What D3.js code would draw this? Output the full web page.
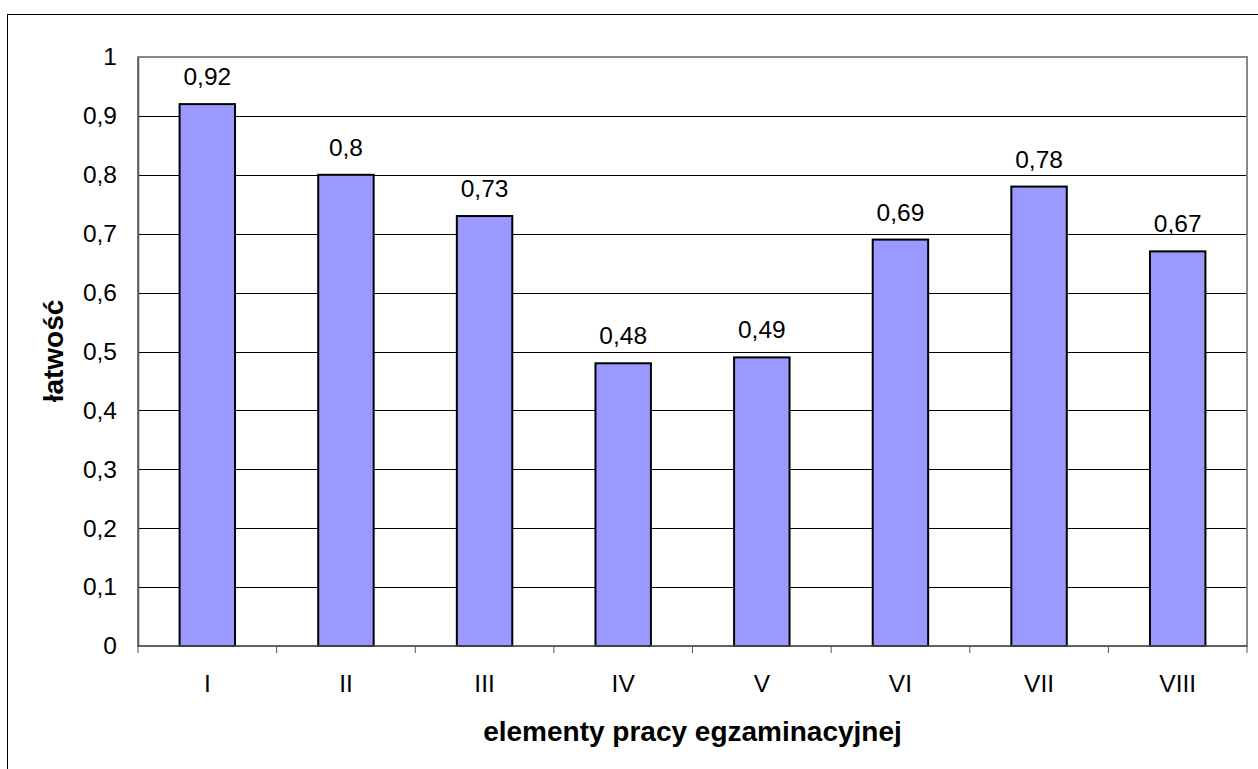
<!DOCTYPE html>
<html><head><meta charset="utf-8">
<script src="https://cdn.jsdelivr.net/npm/d3@7"></script>
<style>body{margin:0;background:#fff}svg{display:block}</style>
</head><body><svg id="c" width="1258" height="769"></svg>
<script>
const categories = ["I","II","III","IV","V","VI","VII","VIII"];
const values = [0.92,0.8,0.73,0.48,0.49,0.69,0.78,0.67];
const valueLabels = ["0,92","0,8","0,73","0,48","0,49","0,69","0,78","0,67"];
const yTicks = [0,0.1,0.2,0.3,0.4,0.5,0.6,0.7,0.8,0.9,1];
const yTitle = "łatwość";
const xTitle = "elementy pracy egzaminacyjnej";

const svg = d3.select("#c");
const font = "Arial, 'Liberation Sans', sans-serif";
const L = 138, T = 57, R = 1247, B = 646;
const fs = 24.5, tfs = 28;

svg.append("rect").attr("x",7.5).attr("y",14.5).attr("width",1300).attr("height",800)
  .attr("fill","none").attr("stroke","#000").attr("stroke-width",1);

const x = d3.scaleBand().domain(categories).range([L,R]).paddingInner(0.6).paddingOuter(0.3);
const xb = d3.scaleBand().domain(categories).range([L,R]);
const y = d3.scaleLinear().domain([0,1]).range([B,T]);

// gridlines
svg.append("g").selectAll("line").data(yTicks.filter(d=>d>0 && d<1)).join("line")
  .attr("x1",L).attr("x2",R).attr("y1",d=>Math.round(y(d))+0.5).attr("y2",d=>Math.round(y(d))+0.5)
  .attr("stroke","#000").attr("stroke-width",1);

// plot border
svg.append("rect").attr("x",L).attr("y",T).attr("width",R-L).attr("height",B-T)
  .attr("fill","none").attr("stroke","#888").attr("stroke-width",2);

// bars
svg.append("g").selectAll("rect").data(values).join("rect")
  .attr("x",(d,i)=>x(categories[i])).attr("width",x.bandwidth())
  .attr("y",d=>y(d)).attr("height",d=>B-y(d))
  .attr("fill","#9999FF").attr("stroke","#000").attr("stroke-width",2);

// value labels
svg.append("g").selectAll("text").data(values).join("text")
  .attr("x",(d,i)=>x(categories[i])+x.bandwidth()/2).attr("y",d=>y(d)-19)
  .attr("text-anchor","middle").attr("font-family",font).attr("font-size",fs).attr("fill","#000")
  .text((d,i)=>valueLabels[i]);

// y axis
const yAxis = d3.axisLeft(y).tickValues(yTicks).tickSize(0).tickPadding(21)
  .tickFormat(d=>d3.format(".1~f")(d).replace(".",","));
const gy = svg.append("g").attr("transform",`translate(${L},0)`).call(yAxis);
gy.select(".domain").attr("stroke","#555").attr("stroke-width",1.5);
gy.selectAll("text").attr("font-family",font).attr("font-size",fs).attr("fill","#000");

// x axis
const gx = svg.append("g").attr("transform",`translate(0,${B})`);
gx.append("line").attr("x1",L).attr("x2",R).attr("y1",0).attr("y2",0).attr("stroke","#555").attr("stroke-width",1.5);
gx.selectAll("line.t").data(categories.concat(["end"])).join("line").attr("class","t")
  .attr("x1",(d,i)=> i<categories.length ? xb(d) : R).attr("x2",(d,i)=> i<categories.length ? xb(d) : R)
  .attr("y1",0).attr("y2",7).attr("stroke","#555").attr("stroke-width",1);
gx.selectAll("text").data(categories).join("text")
  .attr("x",d=>xb(d)+xb.bandwidth()/2).attr("y",46)
  .attr("text-anchor","middle").attr("font-family",font).attr("font-size",fs).attr("fill","#000").text(d=>d);

// titles
svg.append("text").attr("transform","translate(63,351) rotate(-90)").attr("text-anchor","middle")
  .attr("font-family",font).attr("font-size",tfs).attr("font-weight","bold").text(yTitle);
svg.append("text").attr("x",(L+R)/2).attr("y",741).attr("text-anchor","middle")
  .attr("font-family",font).attr("font-size",tfs).attr("font-weight","bold").text(xTitle);
</script></body></html>
